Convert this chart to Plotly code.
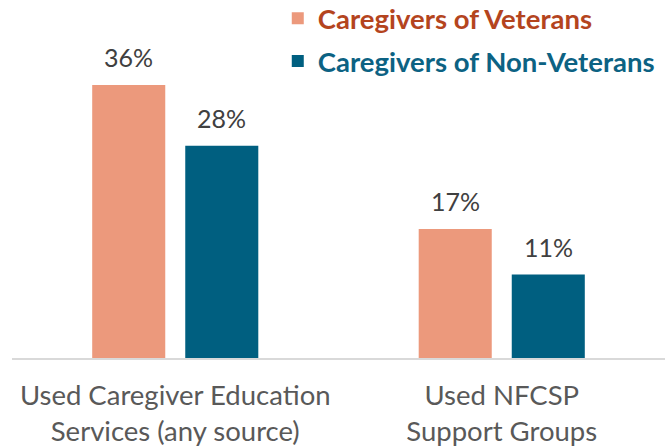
import plotly.graph_objects as go

categories = ["Used Caregiver Education<br>Services (any source)", "Used NFCSP<br>Support Groups"]
series_names = ["Caregivers of Veterans", "Caregivers of Non-Veterans"]
veterans = [36, 17]
non_veterans = [28, 11]

bar_colors = ["#EC997C", "#005F80"]
text_colors = ["#B4441E", "#0C6283"]
FONT = "Lato"

fig = go.Figure()
for i, (name, vals) in enumerate(zip(series_names, [veterans, non_veterans])):
    fig.add_trace(go.Bar(
        x=categories, y=vals,
        name=f"<span style='color:{text_colors[i]}'><b>{name}</b></span>",
        marker=dict(color=bar_colors[i], line=dict(width=0)),
        legendgroup=f"g{i}",
        hoverinfo="skip",
    ))

# value labels
slot_px = 93
for i, vals in enumerate([veterans, non_veterans]):
    sh = -slot_px / 2 if i == 0 else slot_px / 2
    for c, v in zip(categories, vals):
        fig.add_annotation(x=c, y=v, text=f"{v}%", showarrow=False,
                           xshift=sh, yshift=28, yanchor="middle",
                           font=dict(family=FONT, size=25, color="#404040"))

fig.update_layout(
    width=665, height=447,
    margin=dict(l=12, r=0, t=0, b=89, autoexpand=False),
    paper_bgcolor="white", plot_bgcolor="white",
    barmode="group", bargap=0.43, bargroupgap=0.215,
    font=dict(family=FONT),
    showlegend=True,
    legend=dict(x=0.407, y=1.017, xanchor="left", yanchor="top",
                font=dict(family=FONT, size=27.5), tracegroupgap=4,
                bgcolor="rgba(0,0,0,0)", itemwidth=30),
)
fig.update_xaxes(showline=True, linecolor="#D9D9D9", linewidth=2, ticks="",
                 tickfont=dict(family=FONT, size=27.5, color="#595959"),
                 ticklabelstandoff=12, showgrid=False)
fig.update_yaxes(range=[0, 47.2], visible=False, showgrid=False)

fig.write_html("out.html", config={"displayModeBar": False},
               post_script="document.body.style.margin='0';")
